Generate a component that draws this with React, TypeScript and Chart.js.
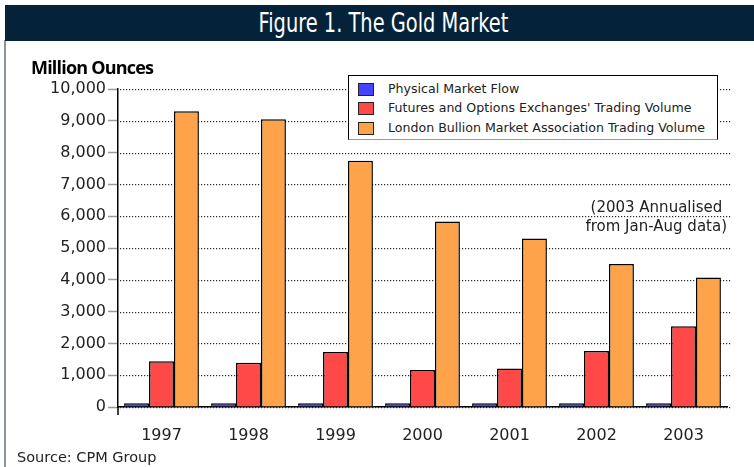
import React, { useEffect, useRef } from "react";
import { Chart, registerables } from "chart.js";

Chart.register(...registerables);

const years = ["1997", "1998", "1999", "2000", "2001", "2002", "2003"];
const physicalFlow = [120, 120, 120, 120, 120, 120, 120];
const futuresVolume = [1440, 1390, 1730, 1160, 1210, 1760, 2540];
const lbmaVolume = [9300, 9050, 7740, 5830, 5300, 4500, 4070];
const seriesNames = [
  "Physical Market Flow",
  "Futures and Options Exchanges' Trading Volume",
  "London Bullion Market Association Trading Volume",
];
const seriesColors = ["#4444ff", "#ff4848", "#ffa34a"];
const yTickValues = [0, 1000, 2000, 3000, 4000, 5000, 6000, 7000, 8000, 9000, 10000];

const tickFont = { family: "'DejaVu Sans', sans-serif", size: 16 };

export default function App() {
  const ref = useRef<HTMLCanvasElement | null>(null);

  useEffect(() => {
    if (!ref.current) return;
    const dottedGrid = {
      id: "dottedGrid",
      beforeDatasetsDraw(chart: any) {
        const y = chart.scales.y;
        const area = chart.chartArea;
        const ctx = chart.ctx;
        ctx.save();
        ctx.fillStyle = "#2a2a2a";
        for (const v of yTickValues) {
          const py = Math.round(y.getPixelForValue(v));
          for (let x = Math.round(area.left) + 2; x <= area.right + 2; x += 3) {
            ctx.fillRect(x, py, 1.2, 1.2);
          }
        }
        ctx.restore();
      },
      afterDraw(chart: any) {
        const area = chart.chartArea;
        const ctx = chart.ctx;
        ctx.save();
        ctx.strokeStyle = "#000";
        ctx.lineWidth = 1.5;
        ctx.beginPath();
        ctx.moveTo(area.left, area.bottom);
        ctx.lineTo(area.left, area.bottom + 8);
        ctx.stroke();
        ctx.restore();
      },
    };
    const chart = new Chart(ref.current, {
      type: "bar",
      data: {
        labels: years,
        datasets: [physicalFlow, futuresVolume, lbmaVolume].map((d, i) => ({
          label: seriesNames[i],
          data: d,
          backgroundColor: seriesColors[i],
          borderColor: "#000",
          borderWidth: 1.5,
          borderSkipped: "bottom",
          categoryPercentage: 0.86,
          barPercentage: 1,
        })),
      },
      plugins: [dottedGrid],
      options: {
        responsive: false,
        animation: false,
        layout: { padding: { left: 0, right: 27, top: 89, bottom: 0 } },
        plugins: { legend: { display: false }, tooltip: { enabled: false } },
        scales: {
          x: {
            grid: { display: false },
            border: { color: "#000", width: 1.5 },
            ticks: { color: "#222", font: tickFont, padding: 11, maxRotation: 0 },
            afterFit: (s: any) => {
              s.height = 60;
            },
          },
          y: {
            min: 0,
            max: 10000,
            afterBuildTicks: (s: any) => {
              s.ticks = yTickValues.map((v) => ({ value: v }));
            },
            ticks: {
              color: "#222",
              font: tickFont,
              padding: 2,
              callback: (v: any) => Number(v).toLocaleString("en-US"),
            },
            grid: {
              drawOnChartArea: false,
              color: "#999",
              tickColor: "#999",
              tickLength: 10,
              tickWidth: 1.5,
            },
            border: { color: "#000", width: 1.5 },
            afterFit: (s: any) => {
              s.width = 118;
            },
          },
        },
      },
    });
    return () => chart.destroy();
  }, []);

  return (
    <div
      style={{
        position: "absolute",
        left: 0,
        top: 0,
        width: 754,
        height: 467,
        background: "#fff",
        overflow: "hidden",
        fontFamily: "'DejaVu Sans', sans-serif",
      }}
    >
      <div
        style={{
          position: "absolute",
          left: 4,
          top: 40,
          width: 2,
          height: 427,
          background: "#8a96a0",
        }}
      />
      <div
        style={{
          position: "absolute",
          left: 5,
          top: 5,
          width: 749,
          height: 36,
          background: "#04233b",
          color: "#fff",
          textAlign: "center",
          fontFamily: "'Liberation Sans Narrow', 'DejaVu Sans Condensed', sans-serif",
          fontStretch: "condensed",
          fontSize: 26,
          lineHeight: "36px",
        }}
      >
        <span
          style={{
            display: "inline-block",
            position: "relative",
            left: 4,
            transform: "scaleX(0.83)",
            transformOrigin: "center",
          }}
        >
          Figure 1. The Gold Market
        </span>
      </div>
      <canvas
        ref={ref}
        width={754}
        height={467}
        style={{ position: "absolute", left: 0, top: 0, width: 754, height: 467 }}
      />
      <div
        style={{
          position: "absolute",
          left: 31,
          top: 55,
          fontFamily: "'Open Sans', sans-serif",
          fontWeight: 700,
          fontSize: 18,
          letterSpacing: -0.8,
          color: "#000",
          lineHeight: "24px",
          whiteSpace: "nowrap",
        }}
      >
        Million Ounces
      </div>
      <div
        style={{
          position: "absolute",
          left: 348,
          top: 75,
          width: 368,
          height: 63,
          borderTop: "1px solid #000",
          borderLeft: "1px solid #000",
          borderRight: "1px solid #000",
          borderBottom: "1px solid #999",
          background: "#fff",
        }}
      >
        {seriesNames.map((n, i) => (
          <div key={n} style={{ position: "absolute", left: 0, top: 3 + i * 19.3, height: 19, width: 360 }}>
            <div
              style={{
                position: "absolute",
                left: 9,
                top: 4,
                width: 14,
                height: 11,
                background: seriesColors[i],
                border: "1px solid #222",
              }}
            />
            <div
              style={{
                position: "absolute",
                left: 39,
                top: 0,
                fontSize: 12.6,
                lineHeight: "19px",
                color: "#222",
                whiteSpace: "nowrap",
              }}
            >
              {n}
            </div>
          </div>
        ))}
      </div>
      <div
        style={{
          position: "absolute",
          right: 27,
          top: 198,
          textAlign: "right",
          fontSize: 15,
          lineHeight: "19px",
          color: "#222",
          whiteSpace: "nowrap",
        }}
      >
        (2003 Annualised&nbsp;
        <br />
        from Jan-Aug data)
      </div>
      <div
        style={{
          position: "absolute",
          left: 17,
          top: 448,
          fontSize: 14.5,
          lineHeight: "19px",
          color: "#222",
          whiteSpace: "nowrap",
        }}
      >
        Source: CPM Group
      </div>
    </div>
  );
}
